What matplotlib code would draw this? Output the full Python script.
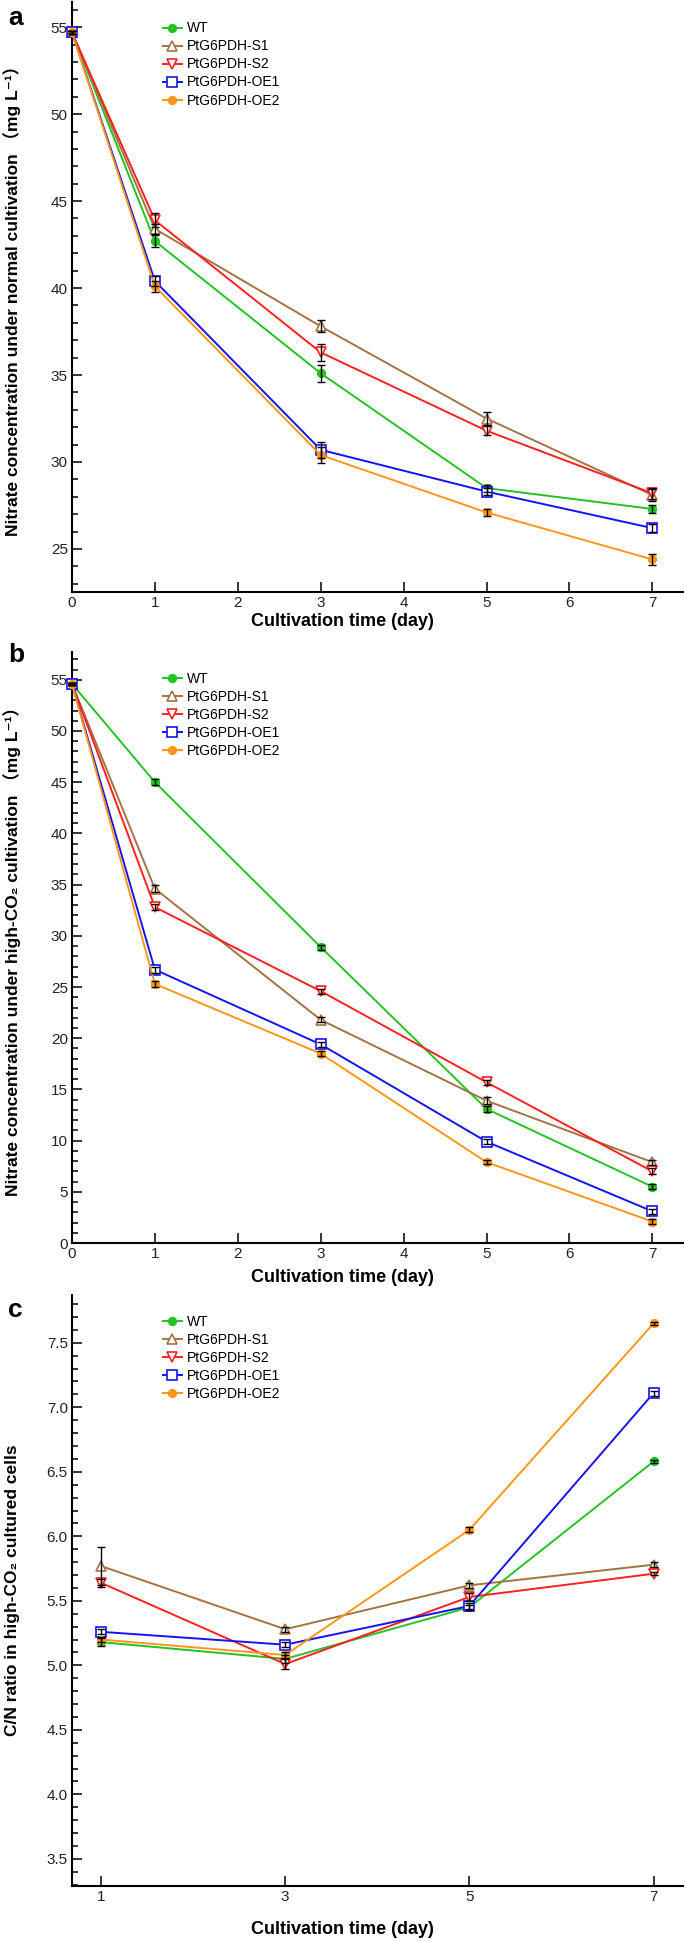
import matplotlib
matplotlib.use("Agg")
import matplotlib.pyplot as plt
from matplotlib.ticker import MultipleLocator, FixedLocator

plt.rcParams['font.family'] = ['Liberation Sans', 'DejaVu Sans', 'Noto Sans CJK SC']

# ---- data ----
days_ab = [0, 1, 3, 5, 7]
days_c = [1, 3, 5, 7]
strains = ['WT', 'PtG6PDH-S1', 'PtG6PDH-S2', 'PtG6PDH-OE1', 'PtG6PDH-OE2']

# (a) nitrate, normal cultivation (mg/L)
normal_wt = [54.7, 42.7, 35.1, 28.5, 27.3]
normal_s1 = [54.7, 43.4, 37.8, 32.5, 28.1]
normal_s2 = [54.7, 43.9, 36.3, 31.8, 28.2]
normal_oe1 = [54.7, 40.4, 30.7, 28.3, 26.2]
normal_oe2 = [54.7, 40.1, 30.4, 27.1, 24.4]
normal_err_wt = [0.1, 0.35, 0.5, 0.2, 0.25]
normal_err_s1 = [0.1, 0.3, 0.35, 0.35, 0.35]
normal_err_s2 = [0.1, 0.4, 0.5, 0.25, 0.3]
normal_err_oe1 = [0.1, 0.3, 0.45, 0.2, 0.25]
normal_err_oe2 = [0.1, 0.3, 0.45, 0.2, 0.3]

# (b) nitrate, high-CO2 cultivation (mg/L)
highco2_wt = [54.6, 45.0, 28.9, 13.1, 5.5]
highco2_s1 = [54.6, 34.6, 21.8, 13.9, 7.9]
highco2_s2 = [54.6, 32.8, 24.6, 15.7, 7.0]
highco2_oe1 = [54.6, 26.7, 19.4, 9.9, 3.1]
highco2_oe2 = [54.6, 25.3, 18.5, 7.9, 2.1]
highco2_err_wt = [0.1, 0.3, 0.25, 0.3, 0.25]
highco2_err_s1 = [0.1, 0.35, 0.25, 0.35, 0.25]
highco2_err_s2 = [0.1, 0.3, 0.25, 0.25, 0.3]
highco2_err_oe1 = [0.1, 0.3, 0.25, 0.25, 0.25]
highco2_err_oe2 = [0.1, 0.3, 0.25, 0.2, 0.25]

# (c) C/N ratio, high-CO2 cultured cells
cn_wt = [5.18, 5.05, 5.45, 6.58]
cn_s1 = [5.77, 5.28, 5.62, 5.78]
cn_s2 = [5.64, 5.01, 5.53, 5.71]
cn_oe1 = [5.26, 5.16, 5.46, 7.11]
cn_oe2 = [5.20, 5.08, 6.05, 7.65]
cn_err_wt = [0.03, 0.03, 0.02, 0.01]
cn_err_s1 = [0.15, 0.02, 0.02, 0.02]
cn_err_s2 = [0.03, 0.04, 0.03, 0.01]
cn_err_oe1 = [0.02, 0.02, 0.02, 0.02]
cn_err_oe2 = [0.02, 0.02, 0.02, 0.01]

colors = ['#22c322', '#a47343', '#ff2020', '#1414f0', '#ff961a']
markers = ['o', '^', 'v', 's', 'o']
filled = [True, False, False, False, True]
msizes = [5.5, 6.5, 6.5, 7, 5.5]


def draw_panel(ax, x, series, errors):
    for i, (y, e) in enumerate(zip(series, errors)):
        ax.errorbar(x, y, yerr=e, fmt='none', ecolor='black', elinewidth=1.0,
                    capsize=3, capthick=1.0, zorder=4, clip_on=False)
        ax.plot(x, y, color=colors[i], lw=1.4, marker=markers[i], ms=msizes[i],
                mfc=colors[i] if filled[i] else 'white', mec=colors[i], mew=1.2,
                label=strains[i], zorder=3 + i * 0.01, clip_on=False)

    for side in ['top', 'right']:
        ax.spines[side].set_visible(False)
    for side in ['left', 'bottom']:
        ax.spines[side].set_linewidth(1.5)
    ax.tick_params(axis='both', which='major', direction='in', length=7, width=1.1,
                   labelsize=11, labelcolor='#222222', pad=3)
    ax.tick_params(axis='y', which='minor', direction='in', length=4, width=1.1)
    ax.tick_params(axis='x', which='minor', bottom=False)
    ax.legend(loc='upper left', bbox_to_anchor=(0.149, 0.967), frameon=False,
              fontsize=10, handlelength=1.35, handletextpad=0.4,
              labelspacing=0.29, borderpad=0, borderaxespad=0)


fig = plt.figure(figsize=(6.85, 19.42), dpi=100)

# ---- (a) ----
ax_a = fig.add_axes([0.1051, 0.6952, 0.892, 0.3038])
draw_panel(ax_a, days_ab,
           [normal_wt, normal_s1, normal_s2, normal_oe1, normal_oe2],
           [normal_err_wt, normal_err_s1, normal_err_s2, normal_err_oe1, normal_err_oe2])
ax_a.set_xlim(0, 7.37)
ax_a.set_ylim(22.53, 56.45)
ax_a.xaxis.set_major_locator(MultipleLocator(1))
ax_a.yaxis.set_major_locator(MultipleLocator(5))
ax_a.yaxis.set_minor_locator(MultipleLocator(1))
ax_a.set_ylabel('Nitrate concentration under normal cultivation （mg L⁻¹）',
                fontsize=12.5, fontweight='bold', va='center')
ax_a.yaxis.set_label_coords(-0.098, 0.5)
ax_a.set_xlabel('Cultivation time (day)', fontsize=13, fontweight='bold', va='center')
ax_a.xaxis.set_label_coords(0.442, -30 / 590)

# ---- (b) ----
ax_b = fig.add_axes([0.1051, 0.3599, 0.892, 0.3043])
draw_panel(ax_b, days_ab,
           [highco2_wt, highco2_s1, highco2_s2, highco2_oe1, highco2_oe2],
           [highco2_err_wt, highco2_err_s1, highco2_err_s2, highco2_err_oe1, highco2_err_oe2])
ax_b.set_xlim(0, 7.37)
ax_b.set_ylim(0, 57.7)
ax_b.xaxis.set_major_locator(MultipleLocator(1))
ax_b.yaxis.set_major_locator(MultipleLocator(5))
ax_b.yaxis.set_minor_locator(MultipleLocator(1))
ax_b.set_ylabel('Nitrate concentration under high-CO₂ cultivation （mg L⁻¹）',
                fontsize=12.5, fontweight='bold', va='center')
ax_b.yaxis.set_label_coords(-0.098, 0.5)
ax_b.set_xlabel('Cultivation time (day)', fontsize=13, fontweight='bold', va='center')
ax_b.xaxis.set_label_coords(0.442, -34 / 591)

# ---- (c) ----
ax_c = fig.add_axes([0.1051, 0.02884, 0.892, 0.3043])
draw_panel(ax_c, days_c,
           [cn_wt, cn_s1, cn_s2, cn_oe1, cn_oe2],
           [cn_err_wt, cn_err_s1, cn_err_s2, cn_err_oe1, cn_err_oe2])
ax_c.set_xlim(0.685, 7.32)
ax_c.set_ylim(3.29, 7.87)
ax_c.xaxis.set_major_locator(FixedLocator(days_c))
ax_c.yaxis.set_major_locator(MultipleLocator(0.5))
ax_c.yaxis.set_minor_locator(MultipleLocator(0.1))
ax_c.yaxis.set_major_formatter('{x:.1f}')
ax_c.set_ylabel('C/N ratio in high-CO₂ cultured cells',
                fontsize=12.5, fontweight='bold', va='center')
ax_c.yaxis.set_label_coords(-0.098, 0.5)
ax_c.set_xlabel('Cultivation time (day)', fontsize=13, fontweight='bold', va='center')
ax_c.xaxis.set_label_coords(0.442, -44 / 591)

# panel letters
for letter, ypix in [('a', 25), ('b', 662), ('c', 1317)]:
    fig.text(8 / 685, 1 - ypix / 1942, letter, fontsize=19, fontweight='bold',
             ha='left', va='baseline')

fig.savefig('out.png', dpi=100)
plt.close(fig)
